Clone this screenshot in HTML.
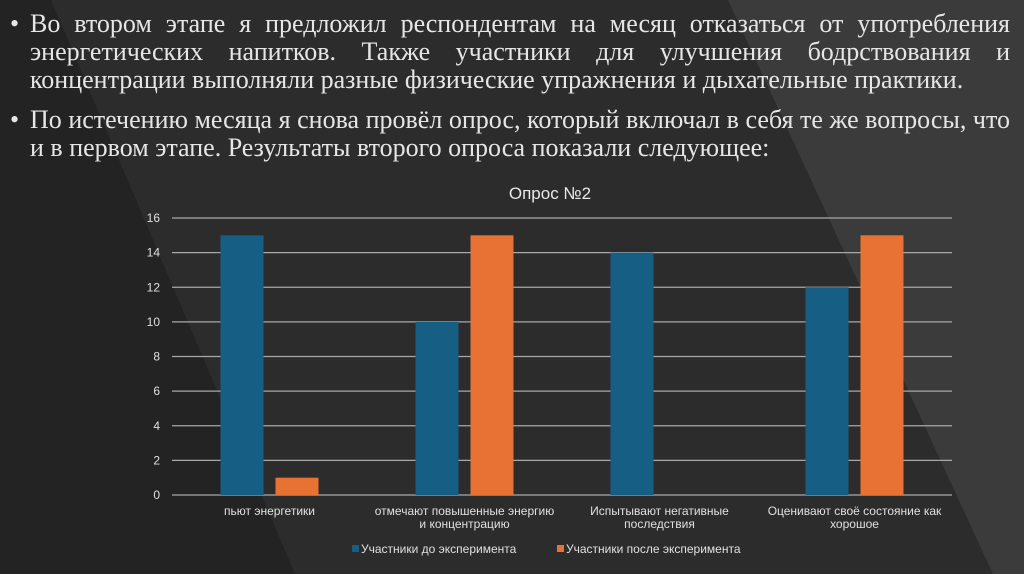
<!DOCTYPE html>
<html><head><meta charset="utf-8">
<style>
html,body{margin:0;padding:0;}
body{width:1024px;height:574px;overflow:hidden;background:#2c2c2c;position:relative;font-family:"Liberation Sans",sans-serif;}
#bg{position:absolute;left:0;top:0;}
.txt{position:absolute;left:10px;width:1000px;font-family:"Liberation Serif","Noto Serif CJK SC",serif;font-size:26px;color:#e6e6e6;line-height:28px;}
.ln{white-space:nowrap;padding-left:20px;}
.j{text-align:justify;text-align-last:justify;white-space:normal;}
.b{position:absolute;left:0;}
#chart{position:absolute;left:0;top:0;}
</style></head>
<body>
<svg id="bg" width="1024" height="574">
<polygon points="0,0 51,0 295,574 0,574" fill="#232323"/>
<polygon points="728,0 1024,0 1024,574 993,574" fill="#3b3b3b"/>
</svg>
<div class="txt" style="top:10px">
<span class="b">•</span>
<div class="ln j">Во втором этапе я предложил респондентам на месяц отказаться от употребления</div>
<div class="ln j">энергетических напитков. Также участники для улучшения бодрствования и</div>
<div class="ln">концентрации выполняли разные физические упражнения и дыхательные практики.</div>
</div>
<div class="txt" style="top:106px">
<span class="b">•</span>
<div class="ln j">По истечению месяца я снова провёл опрос, который включал в себя те же вопросы, что</div>
<div class="ln">и в первом этапе. Результаты второго опроса показали следующее:</div>
</div>
<svg id="chart" width="1024" height="574"></svg>
<script>
const categories=[["пьют энергетики"],["отмечают повышенные энергию","и концентрацию"],["Испытывают негативные","последствия"],["Оценивают своё состояние как","хорошое"]];
const before=[15,10,14,12];
const after=[1,15,0,15];
const ticks=[0,2,4,6,8,10,12,14,16];
const seriesNames=["Участники до эксперимента","Участники после эксперимента"];
const NS="http://www.w3.org/2000/svg";
const svg=document.getElementById('chart');
const x0=172,x1=952,y0=495,yTop=218,ymax=16;
const yS=v=>y0-(v/ymax)*(y0-yTop);
const cw=(x1-x0)/categories.length;
function mk(t,a){const e=document.createElementNS(NS,t);for(const k in a)e.setAttribute(k,a[k]);svg.appendChild(e);return e;}
const title=mk('text',{x:550,y:199,'text-anchor':'middle',fill:'#e8e8e8','font-size':'17','font-family':'Liberation Sans, sans-serif'});
title.textContent='Опрос №2';


ticks.forEach(t=>{
 const l=mk('line',{x1:x0,x2:x1,y1:yS(t),y2:yS(t),stroke:'#a8a8a8','stroke-width':1.2});
 
 
 const tx=mk('text',{x:160,y:yS(t)+4,'text-anchor':'end',fill:'#e0e0e0','font-size':'12','font-family':'Liberation Sans, sans-serif'});
 tx.textContent=t;
 
 
});
const bw=43,gap=12;
categories.forEach((c,i)=>{
 const cx=x0+cw*i+cw/2;
 const b1=mk('rect',{x:cx-gap/2-bw,y:yS(before[i]),width:bw,height:y0-yS(before[i]),fill:'#175e85'});
 
 
 const b2=mk('rect',{x:cx+gap/2,y:yS(after[i]),width:bw,height:y0-yS(after[i]),fill:'#e87233'});
 
 
 c.forEach((s,j)=>{
  const t=mk('text',{x:cx,y:515+j*13,'text-anchor':'middle',fill:'#e0e0e0','font-size':'12','font-family':'Liberation Sans, sans-serif'});
  t.textContent=s;
  
  
 });
});
const legX=[352,557],cols=['#175e85','#e87233'];
seriesNames.forEach((n,i)=>{
 const r=mk('rect',{x:legX[i],y:545,width:7,height:7,fill:cols[i]});
 
 
 const t=mk('text',{x:legX[i]+9,y:553,fill:'#e0e0e0','font-size':'12','font-family':'Liberation Sans, sans-serif'});
 t.textContent=n;
 
 
});
</script>
</body></html>
